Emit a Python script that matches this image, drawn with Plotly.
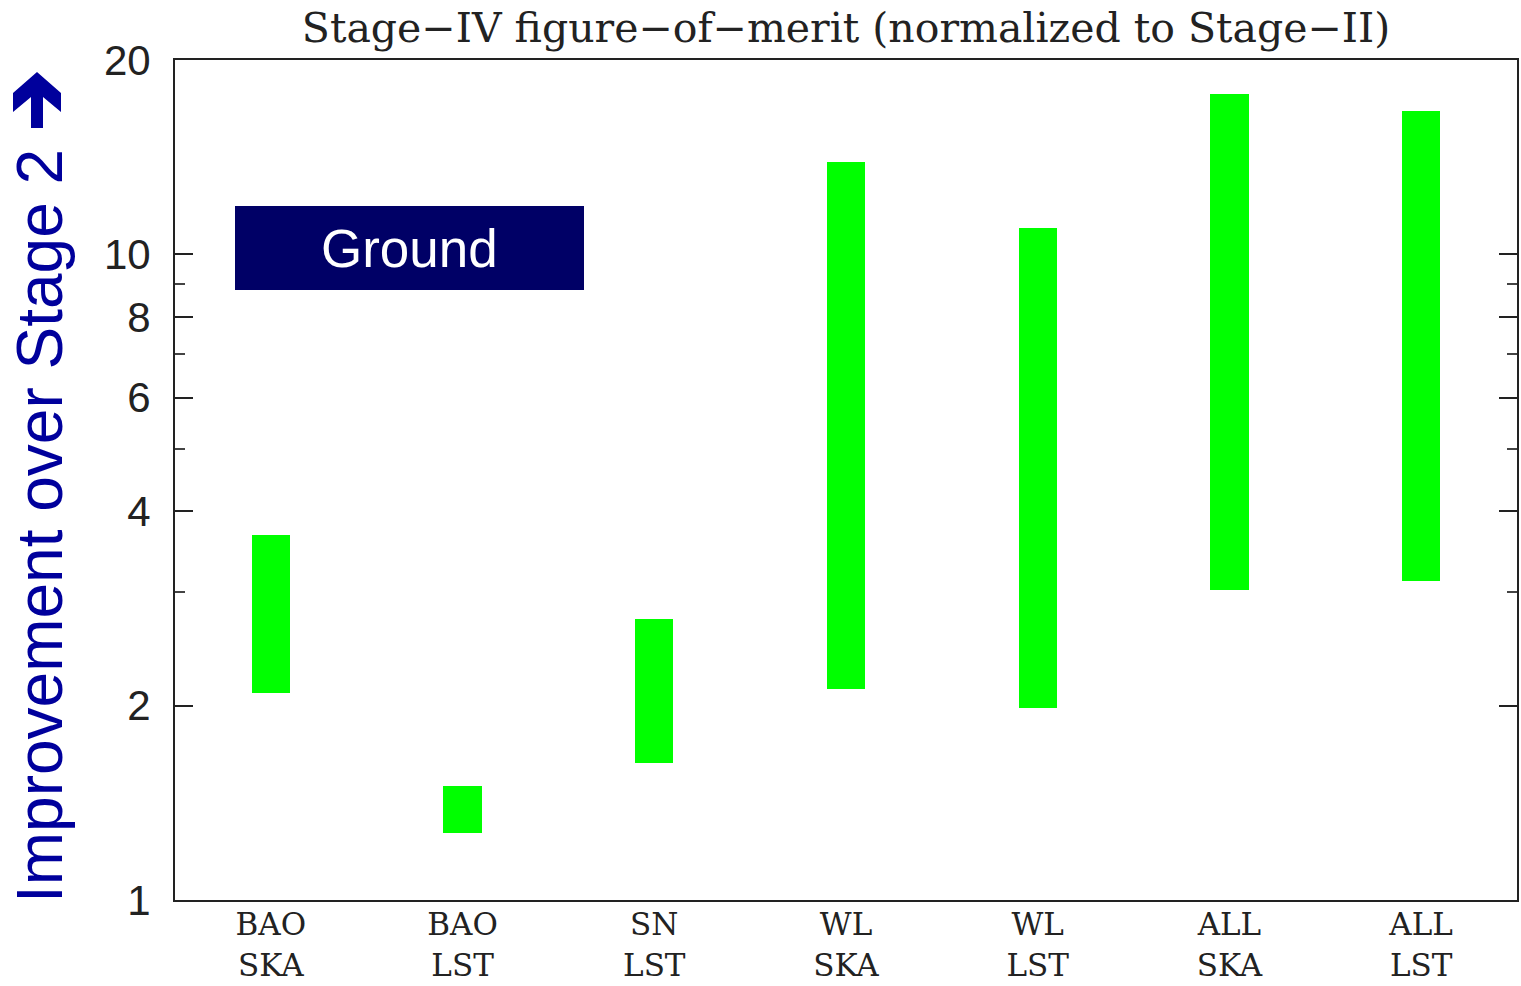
import plotly.graph_objects as go

categories = ["BAO<br>SKA", "BAO<br>LST", "SN<br>LST", "WL<br>SKA", "WL<br>LST", "ALL<br>SKA", "ALL<br>LST"]
low_values = [2.09, 1.27, 1.63, 2.12, 1.98, 3.02, 3.12]
high_values = [3.68, 1.50, 2.72, 13.9, 11.0, 17.7, 16.7]
ytick_vals = [1, 2, 4, 6, 8, 10, 20]
ytick_text = ["1", "2", "4", "6", "8", "10", "20"]
yminor_vals = [3, 5, 7, 9]

heights = [h - l for h, l in zip(high_values, low_values)]

W, H = 1521, 986
L, R, T, B = 175, 4, 60, 86
PW, PH = W - L - R, H - T - B


def px(x):
    return (x - L) / PW


def py(y):
    return (H - B - y) / PH


fig = go.Figure()
fig.add_trace(go.Bar(
    x=categories, y=heights, base=low_values, width=0.2,
    marker=dict(color="#00FF00", line=dict(width=0)),
    showlegend=False,
))

fig.update_layout(
    width=W, height=H,
    margin=dict(l=L, r=R, t=T, b=B, autoexpand=False),
    paper_bgcolor="white", plot_bgcolor="white",
    title=dict(text="Stage\u2212IV figure\u2212of\u2212merit (normalized to Stage\u2212II)",
               xref="paper", x=0.5, xanchor="center", y=1 - 28 / H, yanchor="middle",
               font=dict(family="DejaVu Serif", size=41, color="#222222")),
    bargap=0,
)

fig.update_xaxes(
    type="category", range=[-0.5, 6.5], automargin=False,
    showline=True, linecolor="#222222", linewidth=2, mirror=True,
    showgrid=False, ticks="", ticklabelstandoff=-4,
    tickfont=dict(family="DejaVu Serif", size=31, color="#222222"),
)
fig.update_yaxes(
    type="log", range=[0, 1.30103], automargin=False,
    showline=True, linecolor="#222222", linewidth=2, mirror="ticks",
    showgrid=False, ticks="inside", ticklen=18, tickwidth=2, tickcolor="#222222",
    tickvals=ytick_vals, ticktext=ytick_text, ticklabelstandoff=14,
    tickfont=dict(family="Liberation Sans", size=42, color="#222222"),
    minor=dict(tickvals=yminor_vals, ticks="inside", ticklen=10, tickwidth=2,
               tickcolor="#444444", showgrid=False),
)

# Y title in large blue sans
fig.add_annotation(
    text="Improvement over Stage 2", xref="paper", yref="paper",
    x=px(40), y=py(526), xanchor="center", yanchor="middle", textangle=-90,
    showarrow=False, font=dict(family="Liberation Sans", size=64, color="#00009C"),
)
# Upward arrow
arrow_pts = [(37, 72), (61, 93), (61, 112), (43, 97), (43, 128), (31, 128),
             (31, 97), (13, 112), (13, 93)]
path = "M " + " L ".join(f"{px(x)},{py(y)}" for x, y in arrow_pts) + " Z"
fig.add_shape(type="path", xref="paper", yref="paper", path=path,
              fillcolor="#00009C", line=dict(color="#00009C", width=0))

# Ground label box
fig.add_shape(type="rect", xref="paper", yref="paper",
              x0=px(235), x1=px(584), y0=py(290), y1=py(206),
              fillcolor="#000066", line=dict(width=0), layer="above")
fig.add_annotation(text="Ground", xref="paper", yref="paper",
                   x=px(409), y=py(249),
                   xanchor="center", yanchor="middle", showarrow=False,
                   font=dict(family="Liberation Sans", size=53, color="white"))

fig.write_html("out.html", config={"displayModeBar": False},
               post_script="document.body.style.margin='0';document.body.style.overflow='hidden';")
